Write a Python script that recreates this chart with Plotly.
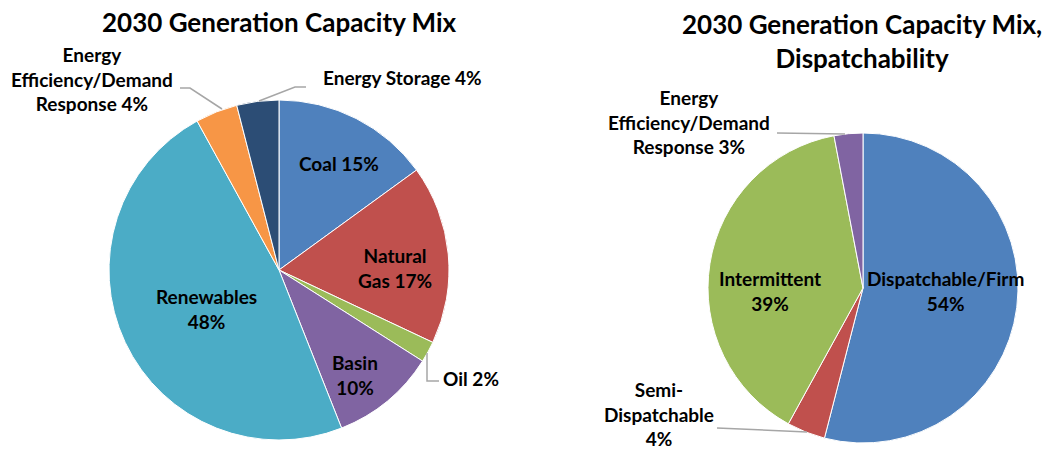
import plotly.graph_objects as go

# ---------------- data ----------------
mix_labels = ["Coal", "Natural Gas", "Oil", "Basin", "Renewables",
              "Energy Efficiency/Demand Response", "Energy Storage"]
mix_values = [15, 17, 2, 10, 48, 4, 4]
mix_colors = ["#4F81BD", "#C0504D", "#9BBB59", "#8064A2", "#4BACC6",
              "#F79646", "#2C4D75"]

disp_labels = ["Dispatchable/Firm", "Semi-Dispatchable", "Intermittent",
               "Energy Efficiency/Demand Response"]
disp_values = [54, 4, 39, 3]
disp_colors = ["#4F81BD", "#C0504D", "#9BBB59", "#8064A2"]

title_left = "2030 Generation Capacity Mix"
title_right = "2030 Generation Capacity Mix,<br>Dispatchability"

# label texts (shown on chart)
mix_text = ["Coal {}%", "Natural<br>Gas {}%", "Oil {}%", "Basin<br>{}%",
            "Renewables<br>{}%", "Energy<br>Efficiency/Demand<br>Response {}%",
            "Energy Storage {}%"]
disp_text = ["Dispatchable/Firm<br>{}%", "Semi-<br>Dispatchable<br>{}%",
             "Intermittent<br>{}%", "Energy<br>Efficiency/Demand<br>Response {}%"]

W, H = 1050, 450
FONT = "Lato"
LABEL_SIZE = 19
TITLE_SIZE = 26


def px(x):
    return x / W


def py(y):
    return 1 - y / H


fig = go.Figure()

fig.add_trace(go.Pie(
    labels=mix_labels, values=mix_values, sort=False, direction="clockwise",
    rotation=0, textinfo="none", hole=0,
    marker=dict(colors=mix_colors, line=dict(color="white", width=1)),
    domain=dict(x=[px(109), px(449)], y=[py(440), py(100)]),
    showlegend=False, name="Mix"))

fig.add_trace(go.Pie(
    labels=disp_labels, values=disp_values, sort=False, direction="clockwise",
    rotation=0, textinfo="none", hole=0,
    marker=dict(colors=disp_colors, line=dict(color="white", width=1)),
    domain=dict(x=[px(708), px(1018)], y=[py(443), py(133)]),
    showlegend=False, name="Dispatchability"))

# label placement (pixel centres)
mix_pos = [(339, 163), (395, 268), (471, 378), (355, 375), (206, 309),
           (92, 79), (402, 77)]
disp_pos = [(945, 291), (659, 414), (770, 291), (689, 122)]

annotations = []
for t, v, (x, y) in zip(mix_text, mix_values, mix_pos):
    annotations.append(dict(text="<b>" + t.format(v) + "</b>", x=px(x), y=py(y),
                            xref="paper", yref="paper", showarrow=False,
                            xanchor="center", yanchor="middle",
                            font=dict(family=FONT, size=LABEL_SIZE, color="black")))
for t, v, (x, y) in zip(disp_text, disp_values, disp_pos):
    annotations.append(dict(text="<b>" + t.format(v) + "</b>", x=px(x), y=py(y),
                            xref="paper", yref="paper", showarrow=False,
                            xanchor="center", yanchor="middle",
                            font=dict(family=FONT, size=LABEL_SIZE, color="black")))

annotations.append(dict(text="<b>" + title_left + "</b>", x=px(279), y=py(22),
                        xref="paper", yref="paper", showarrow=False,
                        xanchor="center", yanchor="middle",
                        font=dict(family=FONT, size=TITLE_SIZE, color="black")))
annotations.append(dict(text="<b>" + title_right + "</b>", x=px(862), y=py(41),
                        xref="paper", yref="paper", showarrow=False,
                        xanchor="center", yanchor="middle",
                        font=dict(family=FONT, size=TITLE_SIZE, color="black")))

# leader lines
leaders = [
    [(180, 88), (190, 88), (222, 109)],      # EE/DR left
    [(306, 87), (295, 87), (259, 101)],      # storage
    [(427, 353), (427, 381), (439, 381)],    # oil
    [(777, 133), (845, 134)],                # EE/DR right
    [(717, 428), (807, 432)],                # semi-dispatchable
]
shapes = []
for pts in leaders:
    path = "M " + " L ".join(f"{px(x)},{py(y)}" for x, y in pts)
    shapes.append(dict(type="path", path=path, xref="paper", yref="paper",
                       line=dict(color="#A6A6A6", width=1.5)))

fig.update_layout(width=W, height=H, margin=dict(l=0, r=0, t=0, b=0),
                  paper_bgcolor="white", plot_bgcolor="white",
                  annotations=annotations, shapes=shapes,
                  font=dict(family=FONT))

fig.write_html("out.html")
